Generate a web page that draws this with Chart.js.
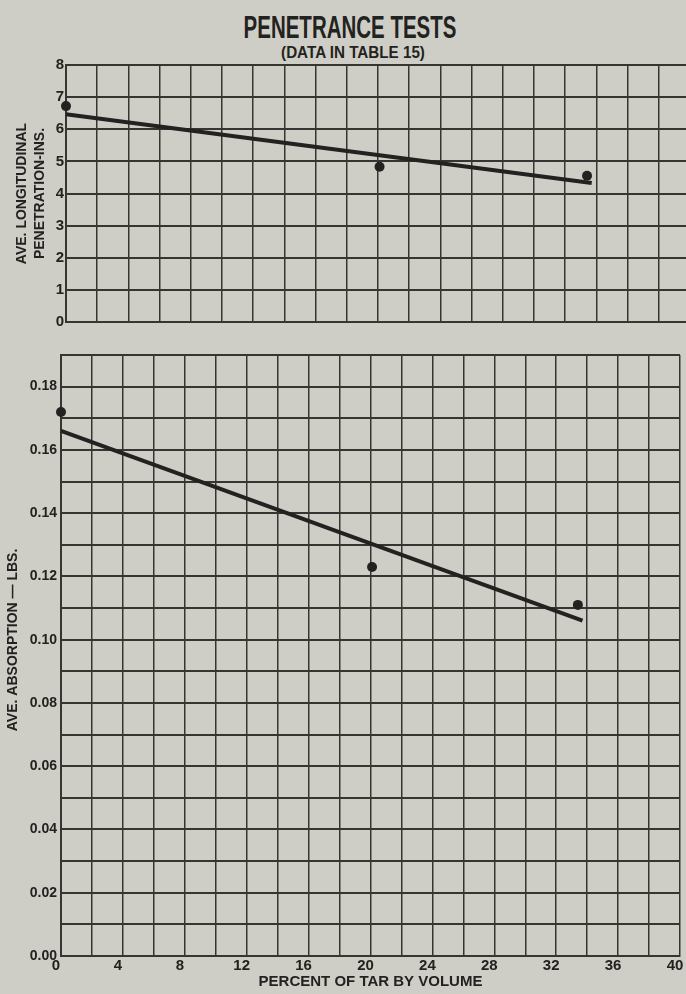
<!DOCTYPE html>
<html>
<head>
<meta charset="utf-8">
<title>Penetrance Tests</title>
<script src="https://cdn.jsdelivr.net/npm/chart.js@4.4.1/dist/chart.umd.min.js"></script>
<style>
  html, body { margin:0; padding:0; width:686px; height:994px; overflow:hidden; background:#cfcec6; }
  body { position:relative; font-family:"Liberation Sans", Arial, sans-serif; color:#222220; }
  .ttl { position:absolute; left:0; width:700px; text-align:center; font-weight:700; white-space:nowrap; }
  #title { top:11px; font-size:32px; line-height:32px; transform:scaleX(0.64); }
  #sub { top:45px; left:3px; font-size:16px; line-height:16px; transform:scaleX(0.95); }
  canvas { position:absolute; left:0; }
  #top { top:0; }
  #bottom { top:335px; }
</style>
</head>
<body>
<div id="title" class="ttl">PENETRANCE TESTS</div>
<div id="sub" class="ttl">(DATA IN TABLE 15)</div>
<canvas id="top" width="700" height="335"></canvas>
<canvas id="bottom" width="700" height="659"></canvas>
<script>
// values
const tarPct = [0, 20.1, 33.4];
const penetration = [6.72, 4.83, 4.55];
const absorption = [0.172, 0.123, 0.111];

// hand drawn straight lines
const fitX = [0, 33.7];
const penetrationFit = [6.47, 4.33];
const absorptionFit = [0.166, 0.106];

// labelled ticks
const xLabels = [0, 4, 8, 12, 16, 20, 24, 28, 32, 36, 40];
const penLabels = [0, 1, 2, 3, 4, 5, 6, 7, 8];
const absLabels = [0, 2, 4, 6, 8, 10, 12, 14, 16, 18]; // hundredths

const INK = "#222220";
const GRID = "#363532";
const FONT = "'Liberation Sans', Arial, sans-serif";

function pts(xs, ys){
  return xs.map((x, i) => ({x, y: ys[i]}));
}

function dotSet(xs, ys){
  return {
    data: pts(xs, ys),
    pointRadius: 5,
    pointBackgroundColor: INK,
    pointBorderWidth: 0,
    showLine: false,
    clip: false
  };
}

function lineSet(xs, ys){
  return {
    data: pts(xs, ys),
    showLine: true,
    borderColor: INK,
    borderWidth: 4,
    pointRadius: 0,
    clip: false
  };
}

function xScale(showLabels, height){
  return {
    type: "linear",
    min: 0,
    max: 40,
    ticks: {
      display: showLabels,
      stepSize: 2,
      autoSkip: false,
      maxRotation: 0,
      padding: 1,
      labelOffset: -5,
      color: INK,
      font: { family: FONT, size: 15, weight: "bold" },
      callback: v => xLabels.includes(v) ? String(v) : ""
    },
    grid: { color: GRID, lineWidth: 1.5, drawTicks: false },
    border: { color: GRID, width: 2 },
    title: {
      display: showLabels,
      text: "PERCENT OF TAR BY VOLUME",
      color: INK,
      font: { family: FONT, size: 15, weight: "bold" },
      padding: { top: 0, bottom: 3 }
    },
    afterFit: s => { s.height = height; s.paddingLeft = 0; s.paddingRight = 0; }
  };
}

const base = {
  responsive: false,
  animation: false,
  events: [],
  plugins: { legend: { display: false }, tooltip: { enabled: false } }
};

new Chart(document.getElementById("top"), {
  type: "scatter",
  data: { datasets: [ dotSet(tarPct, penetration), lineSet(fitX, penetrationFit) ] },
  options: {
    ...base,
    layout: { padding: { left: 0, right: 10, top: 65, bottom: 13 } },
    scales: {
      x: xScale(false, 0),
      y: {
        min: 0,
        max: 8,
        ticks: {
          stepSize: 1,
          padding: 2,
          color: INK,
          font: { family: FONT, size: 15, weight: "bold" },
          callback: v => penLabels.includes(v) ? String(v) : ""
        },
        grid: { color: GRID, lineWidth: 2, drawTicks: false },
        border: { color: GRID, width: 2 },
        title: {
          display: true,
          text: ["AVE. LONGITUDINAL", "PENETRATION-INS."],
          color: INK,
          font: { family: FONT, size: 14, weight: "bold", lineHeight: 1.3 },
          padding: { top: 13, bottom: 0 }
        },
        afterFit: s => { s.width = 66; s.paddingTop = 0; s.paddingBottom = 0; }
      }
    }
  }
});

new Chart(document.getElementById("bottom"), {
  type: "scatter",
  data: { datasets: [ dotSet(tarPct, absorption), lineSet(fitX, absorptionFit) ] },
  options: {
    ...base,
    layout: { padding: { left: 0, right: 20, top: 20, bottom: 0 } },
    scales: {
      x: xScale(true, 38),
      y: {
        min: 0,
        max: 0.19,
        ticks: {
          stepSize: 0.01,
          padding: 4,
          color: INK,
          font: { family: FONT, size: 14, weight: "bold" },
          callback: v => absLabels.includes(Math.round(v * 100)) ? v.toFixed(2) : ""
        },
        grid: { color: GRID, lineWidth: 2, drawTicks: false },
        border: { color: GRID, width: 2 },
        title: {
          display: true,
          text: "        AVE. ABSORPTION — LBS.",
          color: INK,
          font: { family: FONT, size: 14, weight: "bold" },
          padding: { top: 5, bottom: 0 }
        },
        afterFit: s => { s.width = 61; s.paddingTop = 0; s.paddingBottom = 0; }
      }
    }
  }
});
</script>
</body>
</html>
